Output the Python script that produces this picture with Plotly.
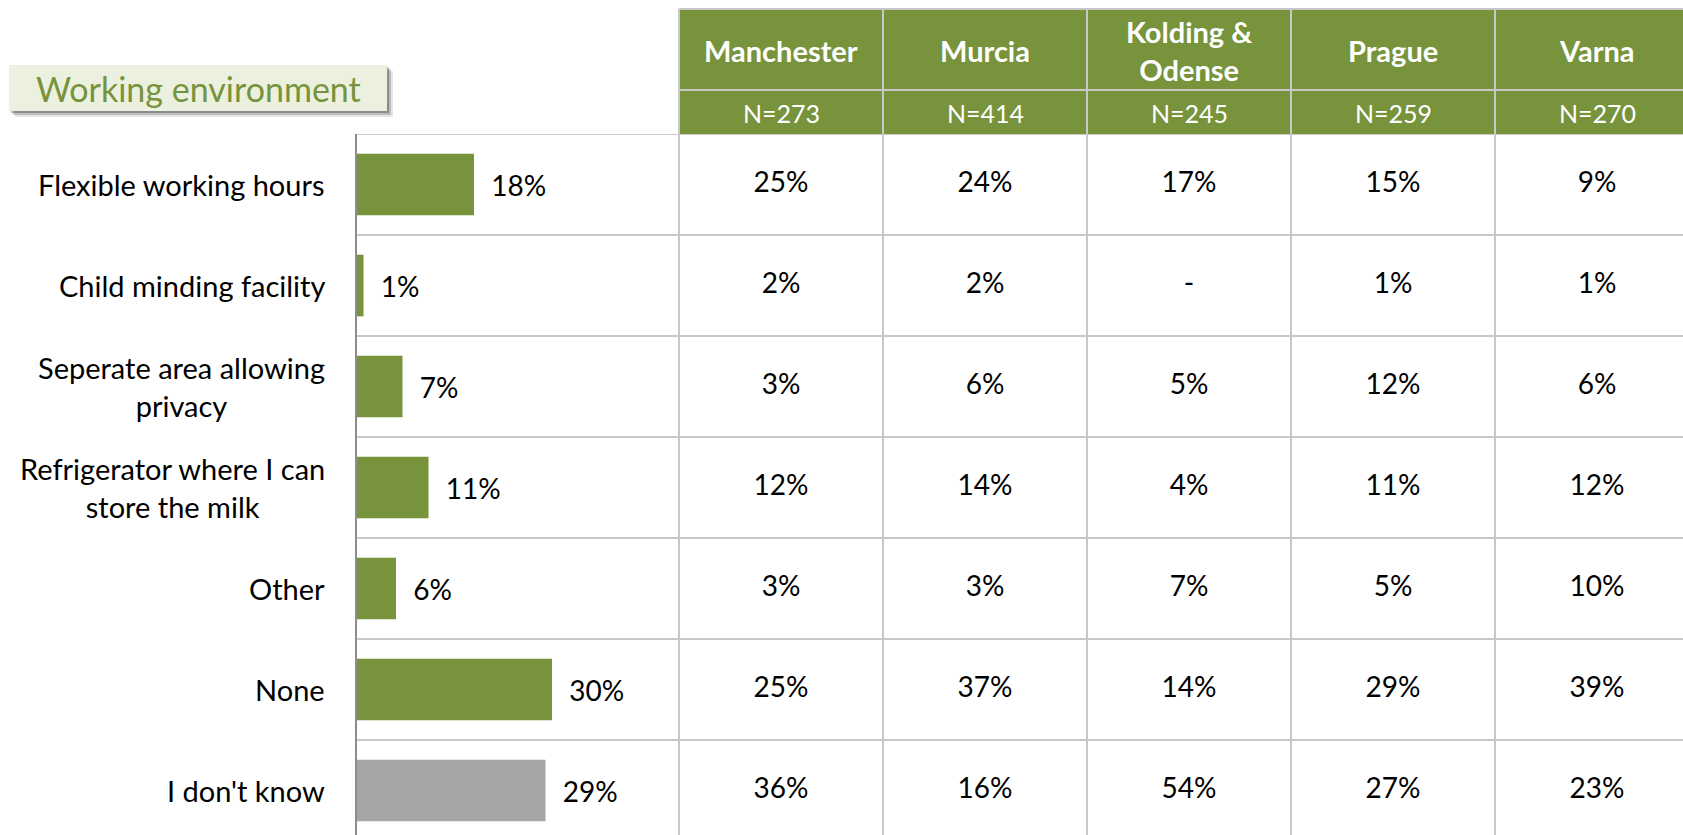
import plotly.graph_objects as go

# ── Data ──────────────────────────────────────────────────────────────────────
items = [
    "Flexible working hours",
    "Child minding facility",
    "Seperate area allowing<br>privacy",
    "Refrigerator where I can<br>store the milk",
    "Other",
    "None",
    "I don't know",
]
total_pct = [18, 1, 7, 11, 6, 30, 29]

cities = ["Manchester", "Murcia", "Kolding &<br>Odense", "Prague", "Varna"]
city_n = [273, 414, 245, 259, 270]

manchester = [25, 2, 3, 12, 3, 25, 36]
murcia = [24, 2, 6, 14, 3, 37, 16]
kolding_odense = [17, None, 5, 4, 7, 14, 54]
prague = [15, 1, 12, 11, 5, 29, 27]
varna = [9, 1, 6, 12, 10, 39, 23]

# ── Style ─────────────────────────────────────────────────────────────────────
W, H = 1683, 835
GREEN = "#77933C"
GREY_BAR = "#A6A6A6"
GRID = "#C8C8C8"
AXIS = "#8C8C8C"
FONT = "Lato, 'Open Sans', sans-serif"

# pixel geometry -> paper
AX_X = 357        # bar axis line
TAB_X = 679       # table left edge
COL_W = 204       # table column width
TOP = 9           # table top
HDR_SPLIT = 90    # city row / N row
DATA_TOP = 134    # first data row
ROW_H = 101


def px(x):
    return x / W


def py(y):
    return 1 - y / H


fig = go.Figure()

bar_colors = [GREEN] * (len(items) - 1) + [GREY_BAR]
fig.add_trace(go.Bar(
    y=items, x=total_pct, orientation="h",
    marker=dict(color=bar_colors, line_width=0),
    text=[f"\u00a0\u00a0{v}%" for v in total_pct],
    textposition="outside",
    textfont=dict(family=FONT, size=28, color="#000000"),
    cliponaxis=False,
    xaxis="x", yaxis="y",
    hoverinfo="skip",
))

# table values
cols = [manchester, murcia, kolding_odense, prague, varna]
tx, ty, tt = [], [], []
for city, col in zip(cities, cols):
    for item, v in zip(items, col):
        tx.append(city)
        ty.append(item)
        tt.append("-" if v is None else f"{v}%")
fig.add_trace(go.Scatter(
    x=tx, y=ty, text=tt, mode="text",
    textfont=dict(family=FONT, size=28, color="#000000"),
    xaxis="x2", yaxis="y", hoverinfo="skip",
))

shapes = []
# header background
shapes.append(dict(type="rect", xref="paper", yref="paper",
                   x0=px(TAB_X), x1=1, y0=py(DATA_TOP), y1=py(TOP),
                   fillcolor=GREEN, line_width=0, layer="below"))
# horizontal row lines
for i in range(len(items)):
    shapes.append(dict(type="line", xref="paper", yref="y",
                       x0=px(AX_X), x1=1, y0=i - 0.5, y1=i - 0.5,
                       line=dict(color=GRID, width=2)))
# header horizontal lines
for yy in (TOP, HDR_SPLIT):
    shapes.append(dict(type="line", xref="paper", yref="paper",
                       x0=px(TAB_X), x1=1, y0=py(yy), y1=py(yy),
                       line=dict(color=GRID, width=2)))
# table vertical lines
shapes.append(dict(type="line", xref="paper", yref="paper",
                   x0=px(TAB_X), x1=px(TAB_X), y0=0, y1=py(TOP),
                   line=dict(color=GRID, width=2)))
for i in range(len(cities) - 1):
    shapes.append(dict(type="line", xref="x2", yref="paper",
                       x0=i + 0.5, x1=i + 0.5, y0=0, y1=py(TOP),
                       line=dict(color=GRID, width=2)))

# title box with soft shadow
for off, op in ((6, 0.10), (4, 0.18), (2, 0.25)):
    shapes.append(dict(type="rect", xref="paper", yref="paper",
                       x0=px(9 + off), x1=px(387 + off),
                       y0=py(111 + off), y1=py(65 + off),
                       fillcolor=f"rgba(0,0,0,{op})", line_width=0))
shapes.append(dict(type="rect", xref="paper", yref="paper",
                   x0=px(9), x1=px(387), y0=py(111), y1=py(65),
                   fillcolor="#EBF1DE", line_width=0))

annotations = [dict(
    text="Working environment", xref="paper", yref="paper",
    x=px(198), y=py(88), xanchor="center", yanchor="middle",
    showarrow=False, font=dict(family=FONT, size=34, color=GREEN),
)]
# row labels
for item in items:
    annotations.append(dict(
        text=item, xref="paper", yref="y", x=px(327), y=item,
        xanchor="right", yanchor="middle", align="center", showarrow=False,
        font=dict(family=FONT, size=29, color="#000000"),
    ))
# header labels
for city, n in zip(cities, city_n):
    annotations.append(dict(
        text=f"<b>{city}</b>", xref="x2", yref="paper", x=city,
        y=py(51), xanchor="center", yanchor="middle", showarrow=False,
        font=dict(family=FONT, size=29, color="#FFFFFF"),
    ))
    annotations.append(dict(
        text=f"N={n}", xref="x2", yref="paper", x=city,
        y=py(113), xanchor="center", yanchor="middle", showarrow=False,
        font=dict(family=FONT, size=25, color="#FFFFFF"),
    ))

fig.update_layout(
    width=W, height=H,
    margin=dict(l=0, r=0, t=0, b=0),
    paper_bgcolor="#FFFFFF", plot_bgcolor="rgba(0,0,0,0)",
    showlegend=False,
    bargap=0.39,
    font=dict(family=FONT, color="#000000"),
    xaxis=dict(domain=[px(AX_X), px(TAB_X)], range=[0, (TAB_X - AX_X) / 6.5],
               visible=False, fixedrange=True),
    xaxis2=dict(domain=[px(TAB_X), 1], anchor="y", type="category",
                categoryorder="array", categoryarray=cities,
                range=[-0.5, -0.5 + (W - TAB_X) / COL_W], visible=False),
    yaxis=dict(domain=[0, py(DATA_TOP)], type="category",
               categoryorder="array", categoryarray=items,
               range=[-0.5 + (H - DATA_TOP) / ROW_H, -0.5],
               showticklabels=False, showgrid=False, zeroline=False,
               showline=True, linecolor=AXIS, linewidth=2, ticks=""),
    shapes=shapes,
    annotations=annotations,
)

fig.write_html("out.html", config={"displayModeBar": False},
               post_script="document.body.style.margin='0';")
